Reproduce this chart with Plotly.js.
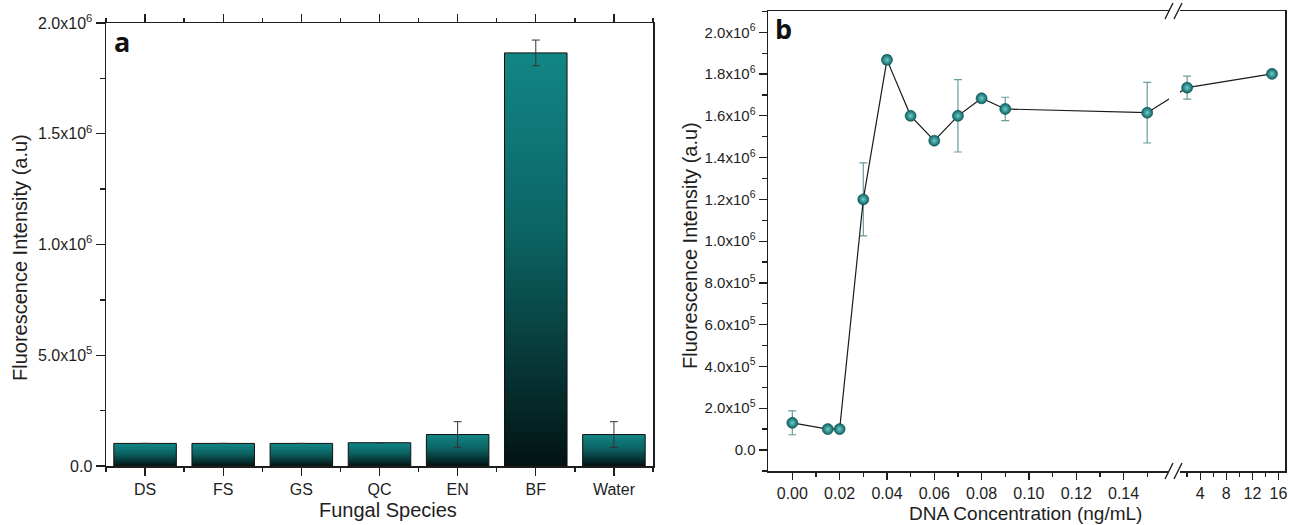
<!DOCTYPE html>
<html><head><meta charset="utf-8">
<script src="https://cdn.plot.ly/plotly-3.0.1.min.js"></script>
<style>html,body{margin:0;padding:0;background:#fff;}#chart{width:1293px;height:525px;}</style>
</head><body><div id="chart"></div>
<script>
// ---------- Panel a data ----------
const categories = ['DS', 'FS', 'GS', 'QC', 'EN', 'BF', 'Water'];
const speciesIntensity = [1.02e5, 1.02e5, 1.02e5, 1.05e5, 1.42e5, 1.865e6, 1.42e5];
const speciesError = [null, null, null, null, 0.58e5, 0.058e6, 0.58e5];
const yTickValsA = [0, 5e5, 1e6, 1.5e6, 2e6];
const yTickTextA = ['0.0', '5.0x10<sup>5</sup>', '1.0x10<sup>6</sup>', '1.5x10<sup>6</sup>', '2.0x10<sup>6</sup>'];

// ---------- Panel b data ----------
const dnaConc = [0, 0.015, 0.02, 0.03, 0.04, 0.05, 0.06, 0.07, 0.08, 0.09, 0.15, 2, 15];
const dnaIntensity = [1.3e5, 1.0e5, 1.0e5, 1.2e6, 1.868e6, 1.6e6, 1.481e6, 1.6e6, 1.684e6, 1.633e6, 1.615e6, 1.735e6, 1.801e6];
const dnaError = [0.57e5, null, null, 0.175e6, 0.02e6, null, null, 0.173e6, null, 0.056e6, 0.145e6, 0.055e6, null];
const yTickValsB = [0, 2e5, 4e5, 6e5, 8e5, 1e6, 1.2e6, 1.4e6, 1.6e6, 1.8e6, 2e6];
const yTickTextB = ['0.0', '2.0x10<sup>5</sup>', '4.0x10<sup>5</sup>', '6.0x10<sup>5</sup>', '8.0x10<sup>5</sup>',
  '1.0x10<sup>6</sup>', '1.2x10<sup>6</sup>', '1.4x10<sup>6</sup>', '1.6x10<sup>6</sup>', '1.8x10<sup>6</sup>', '2.0x10<sup>6</sup>'];
const xTickValsB = [0, 0.02, 0.04, 0.06, 0.08, 0.10, 0.12, 0.14, 4, 8, 12, 16];
const xTickTextB = ['0.00', '0.02', '0.04', '0.06', '0.08', '0.10', '0.12', '0.14', '4', '8', '12', '16'];
const xMinorValsB = [0.01, 0.03, 0.05, 0.07, 0.09, 0.11, 0.13, 0.15, 2, 6, 10, 14];

// ---------- broken x axis mapping (panel b) ----------
const BREAK_VALUE = 1;          // values above this sit on the compressed right segment
const SEG2_ORIGIN = 4, SEG2_POS = 0.17239, SEG2_SCALE = 0.002759;
function axisPos(v) { return v < BREAK_VALUE ? v : SEG2_POS + (v - SEG2_ORIGIN) * SEG2_SCALE; }
const W = 1293, H = 525;
// plot-area pixel frames
const A = {l: 106, r: 653, t: 23, b: 466};
const B = {l: 768, r: 1285, t: 11, b: 471};
const rangeBx = [-0.01028, 0.20824];
function pxToPosB(px) { return rangeBx[0] + (px - B.l) / (B.r - B.l) * (rangeBx[1] - rangeBx[0]); }

const ink = '#1e1e1e';
const font = 'Liberation Sans, Arial, sans-serif';

const data = [
  {
    type: 'bar', xaxis: 'x', yaxis: 'y',
    x: categories.map((c, i) => i), y: speciesIntensity, width: 0.8,
    marker: {color: '#0b6666', line: {color: '#101010', width: 1}},
    error_y: {type: 'data', array: speciesError, visible: true, color: '#333', thickness: 1, width: 4},
    hoverinfo: 'none'
  },
  {
    type: 'scatter', mode: 'lines+markers', xaxis: 'x2', yaxis: 'y2',
    x: dnaConc.map(axisPos), y: dnaIntensity,
    line: {color: '#1a1a1a', width: 1.2},
    marker: {size: 11, color: '#0a6464', line: {color: '#0a4a4a', width: 0.6},
      gradient: {type: 'radial', color: '#6fcaca'}},
    error_y: {type: 'data', array: dnaError, visible: true, color: '#6a9c9c', thickness: 1.2, width: 4},
    hoverinfo: 'none'
  }
];

const axisCommon = {
  showline: true, linecolor: ink, linewidth: 1.5, showgrid: false, zeroline: false,
  ticks: 'outside', tickcolor: ink, tickwidth: 1.3,
  tickfont: {family: font, size: 16, color: ink}
};

const slashPx = 8; // half height of break slashes in px
const dY = slashPx / (B.b - B.t);
const breakShapes = [
  {type: 'rect', xref: 'x2', yref: 'y2 domain', x0: pxToPosB(1169), x1: pxToPosB(1180), y0: -0.03, y1: 1.03,
   fillcolor: '#ffffff', line: {width: 0}, layer: 'above'}
];
[0, 1].forEach(yy => {
  [[1165, 1173], [1174, 1182]].forEach(([a, b]) => {
    breakShapes.push({type: 'line', xref: 'x2', yref: 'y2 domain', x0: pxToPosB(a), x1: pxToPosB(b),
      y0: yy - dY, y1: yy + dY, line: {color: ink, width: 1.4}, layer: 'above'});
  });
});

const layout = {
  width: W, height: H, margin: {l: 0, r: 0, t: 0, b: 0},
  paper_bgcolor: '#fff', plot_bgcolor: '#fff', showlegend: false,
  font: {family: font, color: ink},
  xaxis: Object.assign({}, axisCommon, {
    domain: [A.l / W, A.r / W], anchor: 'y', range: [-0.5, 6.5],
    tickmode: 'array', tickvals: categories.map((c, i) => i), ticktext: categories,
    ticklen: 8, mirror: 'ticks',
    minor: {ticks: 'outside', ticklen: 4, tick0: 0.5, dtick: 1, tickcolor: ink, tickwidth: 1.3}
  }),
  yaxis: Object.assign({}, axisCommon, {
    domain: [(H - A.b) / H, (H - A.t) / H], anchor: 'x', range: [0, 2e6],
    tickmode: 'array', tickvals: yTickValsA, ticktext: yTickTextA, ticklen: 9, mirror: true,
    minor: {ticks: 'outside', ticklen: 5, tick0: 0, dtick: 2.5e5, tickcolor: ink, tickwidth: 1.3}
  }),
  yaxis3: {
    overlaying: 'y', side: 'right', anchor: 'x', range: [0, 2e6], showline: false, showgrid: false, zeroline: false,
    showticklabels: false, ticks: 'outside', ticklen: 3, tickcolor: ink, tickwidth: 1.3,
    tickmode: 'array', tickvals: yTickValsA,
    minor: {ticks: 'outside', ticklen: 3, tick0: 0, dtick: 2.5e5, tickcolor: ink, tickwidth: 1.3}
  },
  xaxis2: Object.assign({}, axisCommon, {
    domain: [B.l / W, B.r / W], anchor: 'y2', range: rangeBx,
    tickmode: 'array', tickvals: xTickValsB.map(axisPos), ticktext: xTickTextB, ticklen: 7, mirror: true,
    minor: {ticks: 'outside', ticklen: 4, tickmode: 'array', tickvals: xMinorValsB.map(axisPos), tickcolor: ink, tickwidth: 1.3}
  }),
  xaxis4: {
    overlaying: 'x2', side: 'top', anchor: 'y2', range: rangeBx, showline: false, showgrid: false, zeroline: false,
    showticklabels: false, ticks: 'inside', ticklen: 3, tickcolor: ink, tickwidth: 1.3,
    tickmode: 'array', tickvals: xTickValsB.concat(xMinorValsB).map(axisPos)
  },
  yaxis2: Object.assign({}, axisCommon, {
    domain: [(H - B.b) / H, (H - B.t) / H], anchor: 'x2', range: [-1.005e5, 2.102e6],
    tickmode: 'array', tickvals: yTickValsB, ticktext: yTickTextB, ticklen: 8, mirror: true,
    tickfont: {family: font, size: 15, color: ink},
    minor: {ticks: 'outside', ticklen: 5, tick0: -1e5, dtick: 2e5, tickcolor: ink, tickwidth: 1.3}
  }),
  yaxis4: {
    overlaying: 'y2', side: 'right', anchor: 'x2', range: [-1.005e5, 2.102e6], showline: false, showgrid: false, zeroline: false,
    showticklabels: false, ticks: 'inside', ticklen: 6, tickcolor: ink, tickwidth: 1.3,
    tickmode: 'array', tickvals: yTickValsB,
    minor: {ticks: 'inside', ticklen: 4, tick0: -1e5, dtick: 2e5, tickcolor: ink, tickwidth: 1.3}
  },
  shapes: breakShapes,
  annotations: [
    {text: '<b>a</b>', xref: 'paper', yref: 'paper', x: 112 / W, y: (H - 41) / H, xanchor: 'left', yanchor: 'middle',
     showarrow: false, font: {family: 'Open Sans, Liberation Sans, sans-serif', size: 27, color: '#111'}},
    {text: '<b>b</b>', xref: 'paper', yref: 'paper', x: 773 / W, y: (H - 29) / H, xanchor: 'left', yanchor: 'middle',
     showarrow: false, font: {family: 'Open Sans, Liberation Sans, sans-serif', size: 27, color: '#111'}},
    {text: 'Fluorescence Intensity (a.u)', xref: 'paper', yref: 'paper', x: 20 / W, y: (H - 258) / H,
     xanchor: 'center', yanchor: 'middle', textangle: -90, showarrow: false, font: {family: font, size: 20, color: ink}},
    {text: 'Fungal Species', xref: 'paper', yref: 'paper', x: 388 / W, y: (H - 510) / H,
     xanchor: 'center', yanchor: 'middle', showarrow: false, font: {family: font, size: 20, color: ink}},
    {text: 'Fluorescence Intensity (a.u)', xref: 'paper', yref: 'paper', x: 690 / W, y: (H - 245) / H,
     xanchor: 'center', yanchor: 'middle', textangle: -90, showarrow: false, font: {family: font, size: 20, color: ink}},
    {text: 'DNA Concentration (ng/mL)', xref: 'paper', yref: 'paper', x: 1025 / W, y: (H - 513) / H,
     xanchor: 'center', yanchor: 'middle', showarrow: false, font: {family: font, size: 19, color: ink}}
  ]
};

Plotly.newPlot('chart', data, layout, {staticPlot: true, displayModeBar: false}).then(gd => {
  const NS = 'http://www.w3.org/2000/svg';
  const svg = gd.querySelector('svg.main-svg');
  let defs = svg.querySelector('defs');
  if (!defs) { defs = document.createElementNS(NS, 'defs'); svg.insertBefore(defs, svg.firstChild); }
  const grad = document.createElementNS(NS, 'linearGradient');
  grad.setAttribute('id', 'barGradient');
  grad.setAttribute('x1', '0'); grad.setAttribute('y1', '0'); grad.setAttribute('x2', '0'); grad.setAttribute('y2', '1');
  [['0%', '#128686'], ['45%', '#0c6262'], ['100%', '#031313']].forEach(([o, c]) => {
    const s = document.createElementNS(NS, 'stop');
    s.setAttribute('offset', o); s.setAttribute('stop-color', c); grad.appendChild(s);
  });
  defs.appendChild(grad);
  gd.querySelectorAll('.barlayer .point path').forEach(p => { p.style.fill = 'url(#barGradient)'; });
});
</script>
</body></html>
